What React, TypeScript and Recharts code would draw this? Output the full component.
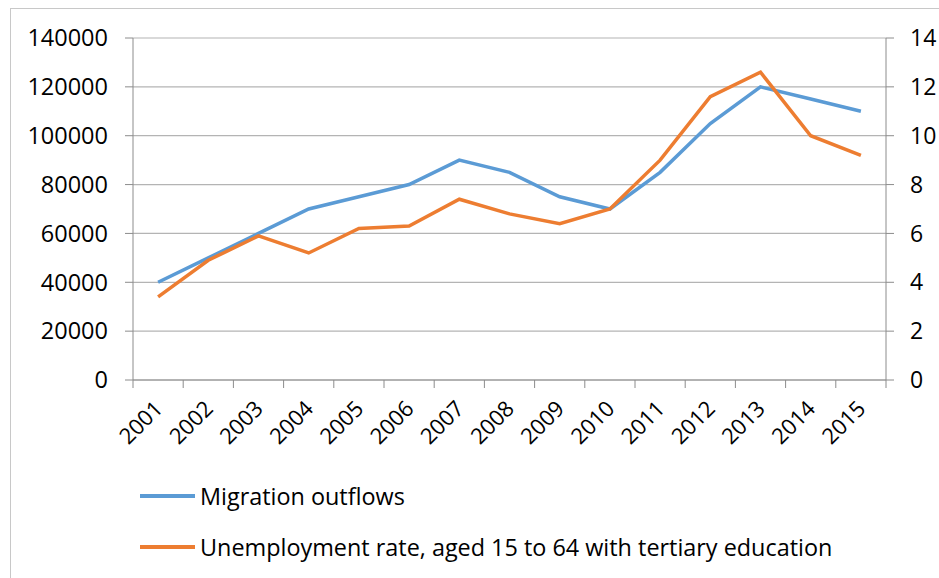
import React from "react";
import { LineChart, Line, XAxis, YAxis, CartesianGrid, Legend } from "recharts";

const years = ["2001","2002","2003","2004","2005","2006","2007","2008","2009","2010","2011","2012","2013","2014","2015"];
const migrationOutflows = [40000,50000,60000,70000,75000,80000,90000,85000,75000,70000,85000,105000,120000,115000,110000];
const unemploymentRate = [3.4,4.9,5.9,5.2,6.2,6.3,7.4,6.8,6.4,7.0,9.0,11.6,12.6,10.0,9.2];
const leftTicks = [0,20000,40000,60000,80000,100000,120000,140000];
const rightTicks = [0,2,4,6,8,10,12,14];
const seriesNames = ["Migration outflows", "Unemployment rate, aged 15 to 64 with tertiary education"];
const seriesColors = ["#5B9BD5", "#ED7D31"];

const data = years.map((y, i) => ({ year: y, migration: migrationOutflows[i], unemployment: unemploymentRate[i] }));

const FONT = "'Open Sans', 'Liberation Sans', sans-serif";
const AXIS = "#8c8c8c";

const XTick = (props: any) => {
  const { x, y, payload, index } = props;
  const half = payload && payload.offset ? payload.offset : 25.1;
  const last = index === years.length - 1;
  const ax = x + 6;
  const ay = y + 30;
  return (
    <g>
      <line x1={x - half} x2={x - half} y1={y} y2={y + 8} stroke={AXIS} strokeWidth={1} />
      {last && <line x1={x + half} x2={x + half} y1={y} y2={y + 8} stroke={AXIS} strokeWidth={1} />}
      <text
        x={ax}
        y={ay}
        textAnchor="end"
        transform={`rotate(-45 ${ax} ${ay})`}
        fontFamily={FONT}
        fontSize={22}
        fill="#000"
      >
        {payload.value}
      </text>
    </g>
  );
};

const LegendContent = () => (
  <div style={{ paddingLeft: 107, paddingTop: 10, fontFamily: FONT, fontSize: 23.4, color: "#000" }}>
    {seriesNames.map((n, i) => (
      <div key={n} style={{ display: "flex", alignItems: "center", height: 51 }}>
        <div style={{ width: 55, height: 4, background: seriesColors[i], marginRight: 5 }} />
        <span>{n}</span>
      </div>
    ))}
  </div>
);

export default function App() {
  return (
    <div style={{ position: "absolute", left: 0, top: 0, width: 939, height: 578, overflow: "hidden", background: "#fff" }}>
      <div style={{ position: "absolute", left: 10, top: 8, width: 1200, height: 900, borderTop: "1.5px solid #c8c8c8", borderLeft: "1.5px solid #c8c8c8" }} />
      <div style={{ position: "absolute", left: 0, top: 0 }}>
        <LineChart width={939} height={578} data={data} margin={{ top: 38, right: 3, bottom: 0, left: 33 }}>
          <CartesianGrid yAxisId="left" vertical={false} stroke="#b4b4b4" strokeWidth={1.2} />
          <XAxis
            dataKey="year"
            scale="band"
            height={80}
            interval={0}
            tickSize={0}
            tickMargin={0}
            tick={<XTick />}
            axisLine={{ stroke: AXIS }}
            tickLine={false}
          />
          <YAxis
            yAxisId="left"
            width={100}
            domain={[0, 140000]}
            ticks={leftTicks}
            interval={0}
            tickSize={8}
            tickMargin={17}
            axisLine={{ stroke: AXIS }}
            tickLine={{ stroke: AXIS }}
            tick={{ fontFamily: FONT, fontSize: 23.5, fill: "#000" }}
          />
          <YAxis
            yAxisId="right"
            orientation="right"
            width={50}
            domain={[0, 14]}
            ticks={rightTicks}
            interval={0}
            tickSize={8}
            tickMargin={16}
            axisLine={{ stroke: AXIS }}
            tickLine={{ stroke: AXIS }}
            tick={{ fontFamily: FONT, fontSize: 23, fill: "#000" }}
          />
          <Legend verticalAlign="bottom" align="left" height={118} content={<LegendContent />} />
          <Line yAxisId="left" type="linear" dataKey="migration" name={seriesNames[0]} stroke={seriesColors[0]} strokeWidth={3.5} dot={false} isAnimationActive={false} />
          <Line yAxisId="right" type="linear" dataKey="unemployment" name={seriesNames[1]} stroke={seriesColors[1]} strokeWidth={3.5} dot={false} isAnimationActive={false} />
        </LineChart>
      </div>
    </div>
  );
}
